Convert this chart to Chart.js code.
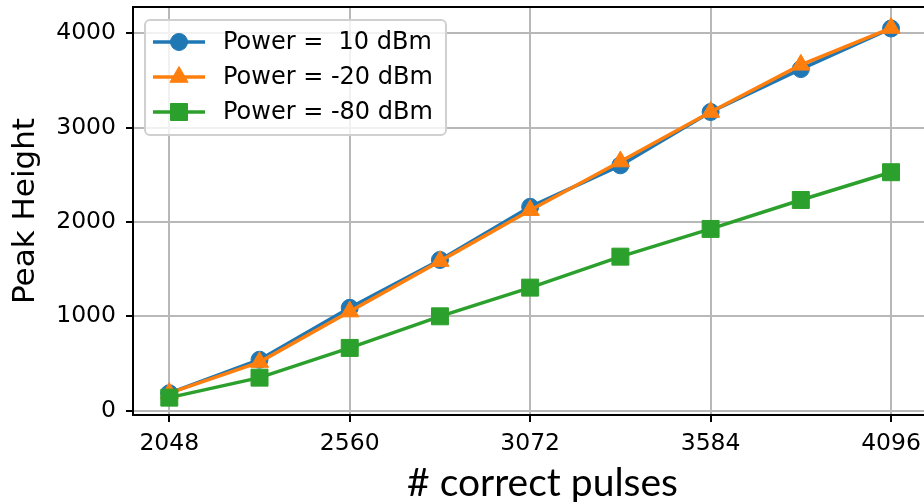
<!DOCTYPE html>
<html>
<head>
<meta charset="utf-8">
<script src="https://cdn.jsdelivr.net/npm/chart.js@4.4.0/dist/chart.umd.min.js"></script>
<style>
  html, body { margin: 0; padding: 0; background: #fff; overflow: hidden; }
  #wrap { width: 924px; height: 502px; overflow: hidden; position: relative; }
  canvas { position: absolute; left: 0; top: 0; }
</style>
</head>
<body>
<div id="wrap"><canvas id="chart" width="952" height="502"></canvas></div>
<script>
// Valores
const pulses = [2048, 2304, 2560, 2816, 3072, 3328, 3584, 3840, 4096];
const power10 = [185, 540, 1090, 1597, 2160, 2600, 3165, 3620, 4050];
const power20 = [185, 515, 1050, 1585, 2125, 2640, 3165, 3665, 4055];
const power80 = [138, 350, 665, 1000, 1304, 1632, 1926, 2233, 2527];

const xTicks = [2048, 2560, 3072, 3584, 4096];
const yTicks = [0, 1000, 2000, 3000, 4000];

const seriesLabels = ['Power =  10 dBm', 'Power = -20 dBm', 'Power = -80 dBm'];

function toPoints(values) {
    return pulses.map((x, i) => ({ x: x, y: values[i] }));
}

// Leyenda al estilo matplotlib: línea + marcador
const mplLegend = {
    id: 'mplLegend',
    afterDatasetsDraw(chart) {
        const ctx = chart.ctx;
        const bx = 145, by = 20, bw = 301, bh = 115;
        ctx.save();
        ctx.beginPath();
        ctx.roundRect(bx, by, bw, bh, 5);
        ctx.fillStyle = 'rgba(255,255,255,0.8)';
        ctx.fill();
        ctx.strokeStyle = '#d0d0d0';
        ctx.lineWidth = 2;
        ctx.stroke();

        chart.data.datasets.forEach((ds, i) => {
            const y = 42 + i * 35;
            ctx.strokeStyle = ds.borderColor;
            ctx.lineWidth = ds.borderWidth;
            ctx.beginPath();
            ctx.moveTo(153, y);
            ctx.lineTo(205, y);
            ctx.stroke();
            ctx.fillStyle = ds.backgroundColor;
            ctx.strokeStyle = ds.borderColor;
            ctx.lineWidth = 1;
            Chart.helpers.drawPoint(ctx, {
                pointStyle: ds.pointStyle,
                radius: ds.pointRadius,
                borderWidth: 1,
                rotation: 0
            }, 179, y);
            ctx.fillStyle = '#000';
            ctx.font = '24px "DejaVu Sans"';
            ctx.textBaseline = 'middle';
            ctx.textAlign = 'left';
            ctx.fillText(ds.label, 223, y + 1);
        });
        ctx.restore();
    }
};

// Línea superior del marco
const topFrame = {
    id: 'topFrame',
    afterDraw(chart) {
        const {ctx, chartArea} = chart;
        ctx.save();
        ctx.strokeStyle = '#000';
        ctx.lineWidth = 2;
        ctx.beginPath();
        ctx.moveTo(chartArea.left, chartArea.top);
        ctx.lineTo(chartArea.right, chartArea.top);
        ctx.stroke();
        ctx.restore();
    }
};

const colors = ['#1f77b4', '#ff7f0e', '#2ca02c'];
const styles = ['circle', 'triangle', 'rect'];
const radii = [8.5, 10.5, 12];
const values = [power10, power20, power80];

const datasets = values.map((v, i) => ({
    label: seriesLabels[i],
    data: toPoints(v),
    borderColor: colors[i],
    backgroundColor: colors[i],
    borderWidth: 3.5,
    pointStyle: styles[i],
    pointRadius: radii[i],
    pointBorderWidth: 1,
    pointHoverRadius: radii[i],
    tension: 0,
    fill: false,
    order: 2 - i
}));

new Chart(document.getElementById('chart'), {
    type: 'line',
    data: { datasets: datasets },
    options: {
        responsive: false,
        animation: false,
        devicePixelRatio: 1,
        layout: { autoPadding: false, padding: { top: 7, left: 0, right: 0, bottom: 0 } },
        plugins: {
            legend: { display: false },
            tooltip: { enabled: false }
        },
        scales: {
            x: {
                type: 'linear',
                min: 1945,
                max: 4269,
                afterBuildTicks: s => { s.ticks = xTicks.map(v => ({ value: v })); },
                afterFit: s => { s.height = 87; s.paddingLeft = 0; s.paddingRight = 0; },
                ticks: {
                    color: '#000',
                    font: { family: 'DejaVu Sans', size: 23.5 },
                    padding: 8,
                    maxRotation: 0,
                    autoSkip: false,
                    callback: v => String(v)
                },
                grid: {
                    color: '#b8b8b8',
                    lineWidth: 2,
                    tickColor: '#000',
                    tickLength: 7,
                    tickWidth: 2
                },
                border: { color: '#000', width: 2 },
                title: {
                    display: true,
                    text: '# correct pulses',
                    color: '#000',
                    font: { family: 'Lato', size: 39 },
                    padding: { top: 0, bottom: -5 }
                }
            },
            y: {
                type: 'linear',
                min: -46,
                max: 4278,
                afterBuildTicks: s => { s.ticks = yTicks.map(v => ({ value: v })); },
                afterFit: s => { s.width = 133; s.paddingTop = 0; s.paddingBottom = 0; },
                ticks: {
                    color: '#000',
                    font: { family: 'DejaVu Sans', size: 23.5 },
                    padding: 10,
                    callback: v => String(v)
                },
                grid: {
                    color: '#b8b8b8',
                    lineWidth: 2,
                    tickColor: '#000',
                    tickLength: 7,
                    tickWidth: 2
                },
                border: { color: '#000', width: 2 },
                title: {
                    display: true,
                    text: 'Peak Height',
                    color: '#000',
                    font: { family: 'DejaVu Sans', size: 31 },
                    padding: { top: 7, bottom: 0 }
                }
            }
        }
    },
    plugins: [mplLegend, topFrame]
});
</script>
</body>
</html>
